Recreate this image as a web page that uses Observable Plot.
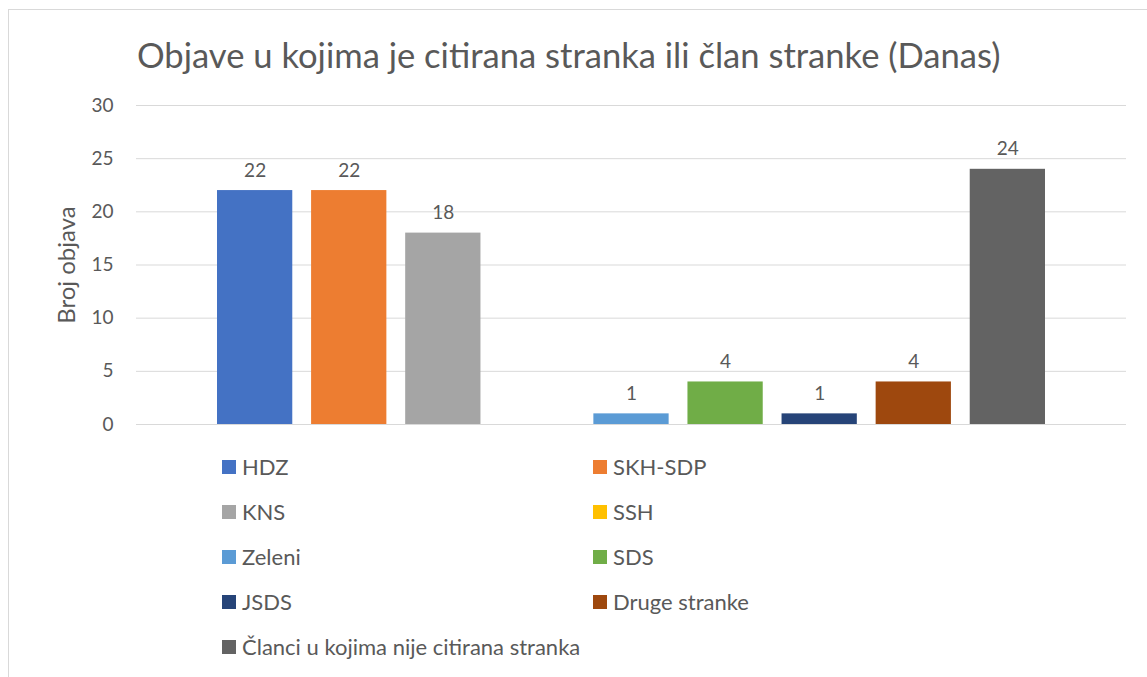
<!DOCTYPE html>
<html><head><meta charset="utf-8">
<script src="https://cdn.jsdelivr.net/npm/d3@7"></script>
<script src="https://cdn.jsdelivr.net/npm/@observablehq/plot@0.6"></script>
<style>
body{margin:0;background:#fff;font-family:Lato,sans-serif;}
#wrap{position:relative;width:1147px;height:677px;overflow:hidden;background:#fff;}
#frame{position:absolute;left:8px;top:9px;width:1200px;height:700px;border-left:1px solid #d9d9d9;border-top:1px solid #d9d9d9;}
#title{position:absolute;left:137px;top:38px;font-size:34.6px;font-weight:400;color:#595959;white-space:nowrap;line-height:1;}
#chart{position:absolute;left:0;top:90px;}
#legend{position:absolute;left:222px;top:444px;display:grid;grid-template-columns:371px auto;}
.item{display:flex;align-items:center;height:45px;font-size:22px;color:#595959;white-space:nowrap;}
.sw{width:14px;height:14px;margin-right:6px;flex:none;}
</style></head>
<body>
<div id="wrap">
  <div id="frame"></div>
  <div id="title">Objave u kojima je citirana stranka ili član stranke (Danas)</div>
  <div id="chart"></div>
  <div id="legend"></div>
</div>
<script>
const series = ["HDZ","SKH-SDP","KNS","SSH","Zeleni","SDS","JSDS","Druge stranke","Članci u kojima nije citirana stranka"];
const values = [22,22,18,0,1,4,1,4,24];
const colors = ["#4472C4","#ED7D31","#A5A5A5","#FFC000","#5B9BD5","#70AD47","#264478","#9E480E","#636363"];
const yTicks = [0,5,10,15,20,25,30];
const yLabel = "Broj objava";

const data = series.map((s,i)=>({series:s,value:values[i]}));
const chart = Plot.plot({
  width:1147, height:350, marginTop:15, marginBottom:16, marginLeft:136, marginRight:21,
  style:{fontFamily:"Lato, sans-serif", fontSize:"19px", color:"#595959", background:"transparent", overflow:"visible"},
  x:{type:"band", domain:series, range:[217,1045], paddingInner:0.2, paddingOuter:0, axis:null, round:false},
  y:{domain:[0,30]},
  color:{domain:series, range:colors},
  marks:[
    Plot.ruleY(yTicks,{stroke:"#d9d9d9", strokeWidth:1}),
    Plot.barY(data,{x:"series", y:"value", fill:"series"}),
    Plot.text(data.filter(d=>d.value>0),{x:"series", y:"value", text:d=>String(d.value), dy:-20, fill:"#595959", fontSize:19}),
    Plot.axisY({ticks:yTicks, tickSize:0, tickPadding:23, label:null, fontSize:19, fill:"#595959"}),
    Plot.text([yLabel],{frameAnchor:"left", textAnchor:"middle", text:d=>d, rotate:-90, dx:-69, fontSize:24, fill:"#595959"})
  ]
});
document.getElementById("chart").appendChild(chart);

const legend = document.getElementById("legend");
series.forEach((s,i)=>{
  const it = document.createElement("div");
  it.className="item";
  it.innerHTML = `<span class="sw" style="background:${colors[i]}"></span><span>${s}</span>`;
  legend.appendChild(it);
});
</script>
</body></html>
